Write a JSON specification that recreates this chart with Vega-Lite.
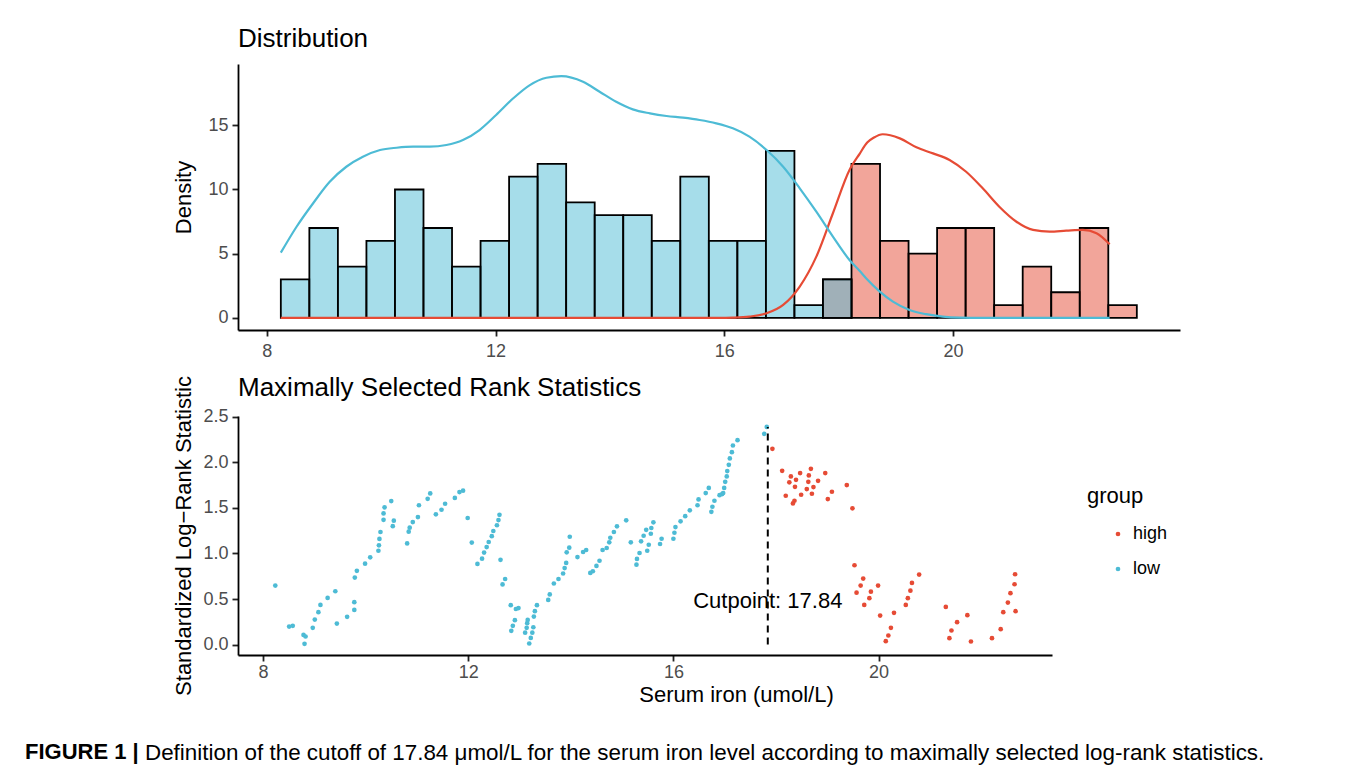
{
  "$schema": "https://vega.github.io/schema/vega-lite/v6.json",
  "background": "white",
  "padding": {"left": 25, "top": 26, "right": 5, "bottom": 5},
  "config": {
    "font": "Liberation Sans",
    "view": {"stroke": null},
    "axis": {"domainColor": "black", "domainWidth": 1.8, "tickColor": "#222222", "tickWidth": 1.8, "tickSize": 6, "labelFontSize": 18, "labelColor": "#4D4D4D", "labelPadding": 4, "titleFontSize": 22, "titleFontWeight": "normal", "titleColor": "black", "grid": false},
    "title": {"fontSize": 26, "fontWeight": "normal", "anchor": "start", "color": "black", "frame": "group", "offset": 12},
    "legend": {"titleFontSize": 22, "titleFontWeight": "normal", "titleColor": "black", "labelFontSize": 18, "labelColor": "black", "symbolSize": 22, "symbolType": "circle", "symbolStrokeWidth": 0, "rowPadding": 17, "titlePadding": 17, "symbolOffset": 22, "labelOffset": 6}
  },
  "datasets": {
    "hist": [
      {"bin_start": 17.726, "bin_end": 18.225, "count": 3, "group": "high"},
      {"bin_start": 18.225, "bin_end": 18.724, "count": 12, "group": "high"},
      {"bin_start": 18.724, "bin_end": 19.223, "count": 6, "group": "high"},
      {"bin_start": 19.223, "bin_end": 19.722, "count": 5, "group": "high"},
      {"bin_start": 19.722, "bin_end": 20.221, "count": 7, "group": "high"},
      {"bin_start": 20.221, "bin_end": 20.72, "count": 7, "group": "high"},
      {"bin_start": 20.72, "bin_end": 21.219, "count": 1, "group": "high"},
      {"bin_start": 21.219, "bin_end": 21.718, "count": 4, "group": "high"},
      {"bin_start": 21.718, "bin_end": 22.217, "count": 2, "group": "high"},
      {"bin_start": 22.217, "bin_end": 22.716, "count": 7, "group": "high"},
      {"bin_start": 22.716, "bin_end": 23.215, "count": 1, "group": "high"},
      {"bin_start": 8.245, "bin_end": 8.744, "count": 3, "group": "low"},
      {"bin_start": 8.744, "bin_end": 9.243, "count": 7, "group": "low"},
      {"bin_start": 9.243, "bin_end": 9.742, "count": 4, "group": "low"},
      {"bin_start": 9.742, "bin_end": 10.241, "count": 6, "group": "low"},
      {"bin_start": 10.241, "bin_end": 10.74, "count": 10, "group": "low"},
      {"bin_start": 10.74, "bin_end": 11.239, "count": 7, "group": "low"},
      {"bin_start": 11.239, "bin_end": 11.738, "count": 4, "group": "low"},
      {"bin_start": 11.738, "bin_end": 12.237, "count": 6, "group": "low"},
      {"bin_start": 12.237, "bin_end": 12.736, "count": 11, "group": "low"},
      {"bin_start": 12.736, "bin_end": 13.235, "count": 12, "group": "low"},
      {"bin_start": 13.235, "bin_end": 13.734, "count": 9, "group": "low"},
      {"bin_start": 13.734, "bin_end": 14.233, "count": 8, "group": "low"},
      {"bin_start": 14.233, "bin_end": 14.732, "count": 8, "group": "low"},
      {"bin_start": 14.732, "bin_end": 15.231, "count": 6, "group": "low"},
      {"bin_start": 15.231, "bin_end": 15.73, "count": 11, "group": "low"},
      {"bin_start": 15.73, "bin_end": 16.229, "count": 6, "group": "low"},
      {"bin_start": 16.229, "bin_end": 16.728, "count": 6, "group": "low"},
      {"bin_start": 16.728, "bin_end": 17.227, "count": 13, "group": "low"},
      {"bin_start": 17.227, "bin_end": 17.726, "count": 1, "group": "low"},
      {"bin_start": 17.726, "bin_end": 18.225, "count": 3, "group": "low"}
    ],
    "dens": [
      {"iron": 8.245, "density": 0, "group": "high"},
      {"iron": 15.9, "density": 0, "group": "high"},
      {"iron": 16.15, "density": 0.02, "group": "high"},
      {"iron": 16.44, "density": 0.1, "group": "high"},
      {"iron": 16.74, "density": 0.36, "group": "high"},
      {"iron": 17.03, "density": 1.01, "group": "high"},
      {"iron": 17.32, "density": 2.44, "group": "high"},
      {"iron": 17.61, "density": 4.77, "group": "high"},
      {"iron": 17.9, "density": 8.15, "group": "high"},
      {"iron": 18.19, "density": 11.52, "group": "high"},
      {"iron": 18.37, "density": 12.8, "group": "high"},
      {"iron": 18.5, "density": 13.65, "group": "high"},
      {"iron": 18.62, "density": 14.05, "group": "high"},
      {"iron": 18.77, "density": 14.3, "group": "high"},
      {"iron": 19.07, "density": 13.98, "group": "high"},
      {"iron": 19.36, "density": 13.28, "group": "high"},
      {"iron": 19.65, "density": 12.81, "group": "high"},
      {"iron": 19.94, "density": 12.3, "group": "high"},
      {"iron": 20.23, "density": 11.38, "group": "high"},
      {"iron": 20.52, "density": 10.09, "group": "high"},
      {"iron": 20.81, "density": 8.66, "group": "high"},
      {"iron": 21.11, "density": 7.49, "group": "high"},
      {"iron": 21.4, "density": 6.85, "group": "high"},
      {"iron": 21.69, "density": 6.72, "group": "high"},
      {"iron": 21.98, "density": 6.79, "group": "high"},
      {"iron": 22.27, "density": 6.85, "group": "high"},
      {"iron": 22.51, "density": 6.59, "group": "high"},
      {"iron": 22.74, "density": 5.73, "group": "high"},
      {"iron": 8.245, "density": 5.08, "group": "low"},
      {"iron": 8.52, "density": 7.1, "group": "low"},
      {"iron": 8.81, "density": 8.93, "group": "low"},
      {"iron": 9.1, "density": 10.6, "group": "low"},
      {"iron": 9.39, "density": 11.77, "group": "low"},
      {"iron": 9.68, "density": 12.55, "group": "low"},
      {"iron": 9.98, "density": 13.07, "group": "low"},
      {"iron": 10.27, "density": 13.25, "group": "low"},
      {"iron": 10.56, "density": 13.33, "group": "low"},
      {"iron": 10.85, "density": 13.33, "group": "low"},
      {"iron": 11.14, "density": 13.46, "group": "low"},
      {"iron": 11.43, "density": 13.85, "group": "low"},
      {"iron": 11.72, "density": 14.63, "group": "low"},
      {"iron": 12.01, "density": 15.8, "group": "low"},
      {"iron": 12.31, "density": 17.1, "group": "low"},
      {"iron": 12.6, "density": 18.13, "group": "low"},
      {"iron": 12.89, "density": 18.7, "group": "low"},
      {"iron": 13.15, "density": 18.83, "group": "low"},
      {"iron": 13.53, "density": 18.39, "group": "low"},
      {"iron": 13.82, "density": 17.61, "group": "low"},
      {"iron": 14.11, "density": 16.83, "group": "low"},
      {"iron": 14.4, "density": 16.24, "group": "low"},
      {"iron": 14.7, "density": 15.93, "group": "low"},
      {"iron": 14.99, "density": 15.72, "group": "low"},
      {"iron": 15.28, "density": 15.59, "group": "low"},
      {"iron": 15.57, "density": 15.41, "group": "low"},
      {"iron": 15.86, "density": 15.15, "group": "low"},
      {"iron": 16.15, "density": 14.76, "group": "low"},
      {"iron": 16.44, "density": 14.11, "group": "low"},
      {"iron": 16.74, "density": 13.07, "group": "low"},
      {"iron": 17.03, "density": 11.77, "group": "low"},
      {"iron": 17.32, "density": 10.09, "group": "low"},
      {"iron": 17.61, "density": 8.27, "group": "low"},
      {"iron": 17.9, "density": 6.33, "group": "low"},
      {"iron": 18.19, "density": 4.51, "group": "low"},
      {"iron": 18.37, "density": 3.65, "group": "low"},
      {"iron": 18.48, "density": 3.09, "group": "low"},
      {"iron": 18.72, "density": 2.05, "group": "low"},
      {"iron": 18.95, "density": 1.27, "group": "low"},
      {"iron": 19.24, "density": 0.62, "group": "low"},
      {"iron": 19.53, "density": 0.29, "group": "low"},
      {"iron": 19.82, "density": 0.1, "group": "low"},
      {"iron": 20.12, "density": 0.02, "group": "low"},
      {"iron": 20.5, "density": 0, "group": "low"},
      {"iron": 22.74, "density": 0, "group": "low"}
    ],
    "scatter": [
      {"iron": 8.24, "stat": 0.647, "group": "low"},
      {"iron": 8.51, "stat": 0.197, "group": "low"},
      {"iron": 8.58, "stat": 0.205, "group": "low"},
      {"iron": 8.79, "stat": 0.106, "group": "low"},
      {"iron": 8.83, "stat": 0.088, "group": "low"},
      {"iron": 8.81, "stat": 0.008, "group": "low"},
      {"iron": 8.97, "stat": 0.183, "group": "low"},
      {"iron": 9.01, "stat": 0.274, "group": "low"},
      {"iron": 9.08, "stat": 0.355, "group": "low"},
      {"iron": 9.12, "stat": 0.435, "group": "low"},
      {"iron": 9.26, "stat": 0.512, "group": "low"},
      {"iron": 9.41, "stat": 0.585, "group": "low"},
      {"iron": 9.44, "stat": 0.23, "group": "low"},
      {"iron": 9.64, "stat": 0.304, "group": "low"},
      {"iron": 9.78, "stat": 0.38, "group": "low"},
      {"iron": 9.78, "stat": 0.465, "group": "low"},
      {"iron": 9.79, "stat": 0.735, "group": "low"},
      {"iron": 9.83, "stat": 0.81, "group": "low"},
      {"iron": 9.99, "stat": 0.888, "group": "low"},
      {"iron": 10.09, "stat": 0.958, "group": "low"},
      {"iron": 10.25, "stat": 1.03, "group": "low"},
      {"iron": 10.26, "stat": 1.09, "group": "low"},
      {"iron": 10.27, "stat": 1.16, "group": "low"},
      {"iron": 10.29, "stat": 1.236, "group": "low"},
      {"iron": 10.35, "stat": 1.37, "group": "low"},
      {"iron": 10.35, "stat": 1.44, "group": "low"},
      {"iron": 10.37, "stat": 1.507, "group": "low"},
      {"iron": 10.5, "stat": 1.576, "group": "low"},
      {"iron": 10.53, "stat": 1.3, "group": "low"},
      {"iron": 10.55, "stat": 1.36, "group": "low"},
      {"iron": 10.81, "stat": 1.11, "group": "low"},
      {"iron": 10.84, "stat": 1.24, "group": "low"},
      {"iron": 10.86, "stat": 1.283, "group": "low"},
      {"iron": 10.92, "stat": 1.345, "group": "low"},
      {"iron": 11.02, "stat": 1.4, "group": "low"},
      {"iron": 11.04, "stat": 1.53, "group": "low"},
      {"iron": 11.21, "stat": 1.6, "group": "low"},
      {"iron": 11.26, "stat": 1.66, "group": "low"},
      {"iron": 11.37, "stat": 1.43, "group": "low"},
      {"iron": 11.48, "stat": 1.48, "group": "low"},
      {"iron": 11.55, "stat": 1.546, "group": "low"},
      {"iron": 11.74, "stat": 1.61, "group": "low"},
      {"iron": 11.83, "stat": 1.674, "group": "low"},
      {"iron": 11.9, "stat": 1.69, "group": "low"},
      {"iron": 11.99, "stat": 1.39, "group": "low"},
      {"iron": 12.07, "stat": 1.12, "group": "low"},
      {"iron": 12.18, "stat": 0.885, "group": "low"},
      {"iron": 12.27, "stat": 0.943, "group": "low"},
      {"iron": 12.31, "stat": 1.01, "group": "low"},
      {"iron": 12.36, "stat": 1.07, "group": "low"},
      {"iron": 12.4, "stat": 1.126, "group": "low"},
      {"iron": 12.46, "stat": 1.19, "group": "low"},
      {"iron": 12.49, "stat": 1.247, "group": "low"},
      {"iron": 12.56, "stat": 1.31, "group": "low"},
      {"iron": 12.59, "stat": 1.367, "group": "low"},
      {"iron": 12.61, "stat": 1.425, "group": "low"},
      {"iron": 12.63, "stat": 0.93, "group": "low"},
      {"iron": 12.67, "stat": 0.66, "group": "low"},
      {"iron": 12.72, "stat": 0.72, "group": "low"},
      {"iron": 12.83, "stat": 0.432, "group": "low"},
      {"iron": 12.84, "stat": 0.15, "group": "low"},
      {"iron": 12.87, "stat": 0.205, "group": "low"},
      {"iron": 12.91, "stat": 0.267, "group": "low"},
      {"iron": 12.93, "stat": 0.39, "group": "low"},
      {"iron": 12.98, "stat": 0.4, "group": "low"},
      {"iron": 13.11, "stat": 0.13, "group": "low"},
      {"iron": 13.14, "stat": 0.183, "group": "low"},
      {"iron": 13.15, "stat": 0.235, "group": "low"},
      {"iron": 13.16, "stat": 0.27, "group": "low"},
      {"iron": 13.19, "stat": 0.011, "group": "low"},
      {"iron": 13.22, "stat": 0.073, "group": "low"},
      {"iron": 13.25, "stat": 0.13, "group": "low"},
      {"iron": 13.27, "stat": 0.19, "group": "low"},
      {"iron": 13.28, "stat": 0.307, "group": "low"},
      {"iron": 13.3, "stat": 0.366, "group": "low"},
      {"iron": 13.34, "stat": 0.432, "group": "low"},
      {"iron": 13.56, "stat": 0.49, "group": "low"},
      {"iron": 13.59, "stat": 0.55, "group": "low"},
      {"iron": 13.67, "stat": 0.67, "group": "low"},
      {"iron": 13.76, "stat": 0.72, "group": "low"},
      {"iron": 13.85, "stat": 0.78, "group": "low"},
      {"iron": 13.88, "stat": 0.84, "group": "low"},
      {"iron": 13.91, "stat": 0.896, "group": "low"},
      {"iron": 13.92, "stat": 1.013, "group": "low"},
      {"iron": 13.97, "stat": 1.064, "group": "low"},
      {"iron": 13.98, "stat": 1.184, "group": "low"},
      {"iron": 14.13, "stat": 0.96, "group": "low"},
      {"iron": 14.24, "stat": 1.016, "group": "low"},
      {"iron": 14.3, "stat": 1.038, "group": "low"},
      {"iron": 14.38, "stat": 0.786, "group": "low"},
      {"iron": 14.43, "stat": 0.805, "group": "low"},
      {"iron": 14.5, "stat": 0.863, "group": "low"},
      {"iron": 14.56, "stat": 0.92, "group": "low"},
      {"iron": 14.62, "stat": 1.038, "group": "low"},
      {"iron": 14.7, "stat": 1.06, "group": "low"},
      {"iron": 14.75, "stat": 1.123, "group": "low"},
      {"iron": 14.77, "stat": 1.173, "group": "low"},
      {"iron": 14.84, "stat": 1.236, "group": "low"},
      {"iron": 14.9, "stat": 1.298, "group": "low"},
      {"iron": 15.08, "stat": 1.364, "group": "low"},
      {"iron": 15.17, "stat": 1.123, "group": "low"},
      {"iron": 15.28, "stat": 0.877, "group": "low"},
      {"iron": 15.29, "stat": 0.94, "group": "low"},
      {"iron": 15.34, "stat": 1.005, "group": "low"},
      {"iron": 15.37, "stat": 1.134, "group": "low"},
      {"iron": 15.42, "stat": 1.195, "group": "low"},
      {"iron": 15.47, "stat": 1.26, "group": "low"},
      {"iron": 15.49, "stat": 1.03, "group": "low"},
      {"iron": 15.52, "stat": 1.096, "group": "low"},
      {"iron": 15.56, "stat": 1.217, "group": "low"},
      {"iron": 15.57, "stat": 1.28, "group": "low"},
      {"iron": 15.61, "stat": 1.342, "group": "low"},
      {"iron": 15.74, "stat": 1.104, "group": "low"},
      {"iron": 15.77, "stat": 1.162, "group": "low"},
      {"iron": 16.0, "stat": 1.162, "group": "low"},
      {"iron": 16.02, "stat": 1.228, "group": "low"},
      {"iron": 16.04, "stat": 1.29, "group": "low"},
      {"iron": 16.14, "stat": 1.353, "group": "low"},
      {"iron": 16.23, "stat": 1.41, "group": "low"},
      {"iron": 16.32, "stat": 1.474, "group": "low"},
      {"iron": 16.47, "stat": 1.53, "group": "low"},
      {"iron": 16.49, "stat": 1.594, "group": "low"},
      {"iron": 16.63, "stat": 1.663, "group": "low"},
      {"iron": 16.69, "stat": 1.72, "group": "low"},
      {"iron": 16.74, "stat": 1.458, "group": "low"},
      {"iron": 16.76, "stat": 1.513, "group": "low"},
      {"iron": 16.8, "stat": 1.579, "group": "low"},
      {"iron": 16.9, "stat": 1.64, "group": "low"},
      {"iron": 16.95, "stat": 1.652, "group": "low"},
      {"iron": 16.97, "stat": 1.663, "group": "low"},
      {"iron": 16.99, "stat": 1.72, "group": "low"},
      {"iron": 17.01, "stat": 1.787, "group": "low"},
      {"iron": 17.04, "stat": 1.846, "group": "low"},
      {"iron": 17.05, "stat": 1.905, "group": "low"},
      {"iron": 17.08, "stat": 1.974, "group": "low"},
      {"iron": 17.1, "stat": 2.044, "group": "low"},
      {"iron": 17.14, "stat": 2.113, "group": "low"},
      {"iron": 17.16, "stat": 2.186, "group": "low"},
      {"iron": 17.25, "stat": 2.245, "group": "low"},
      {"iron": 17.77, "stat": 2.314, "group": "low"},
      {"iron": 17.82, "stat": 2.39, "group": "low"},
      {"iron": 17.93, "stat": 2.149, "group": "high"},
      {"iron": 18.12, "stat": 1.908, "group": "high"},
      {"iron": 18.19, "stat": 1.634, "group": "high"},
      {"iron": 18.26, "stat": 1.781, "group": "high"},
      {"iron": 18.29, "stat": 1.846, "group": "high"},
      {"iron": 18.33, "stat": 1.55, "group": "high"},
      {"iron": 18.36, "stat": 1.579, "group": "high"},
      {"iron": 18.37, "stat": 1.732, "group": "high"},
      {"iron": 18.39, "stat": 1.809, "group": "high"},
      {"iron": 18.47, "stat": 1.883, "group": "high"},
      {"iron": 18.49, "stat": 1.645, "group": "high"},
      {"iron": 18.6, "stat": 1.707, "group": "high"},
      {"iron": 18.63, "stat": 1.787, "group": "high"},
      {"iron": 18.64, "stat": 1.857, "group": "high"},
      {"iron": 18.68, "stat": 1.93, "group": "high"},
      {"iron": 18.7, "stat": 1.656, "group": "high"},
      {"iron": 18.73, "stat": 1.729, "group": "high"},
      {"iron": 18.82, "stat": 1.798, "group": "high"},
      {"iron": 18.96, "stat": 1.883, "group": "high"},
      {"iron": 19.01, "stat": 1.598, "group": "high"},
      {"iron": 19.09, "stat": 1.678, "group": "high"},
      {"iron": 19.38, "stat": 1.751, "group": "high"},
      {"iron": 19.49, "stat": 1.496, "group": "high"},
      {"iron": 19.53, "stat": 0.871, "group": "high"},
      {"iron": 19.57, "stat": 0.57, "group": "high"},
      {"iron": 19.65, "stat": 0.647, "group": "high"},
      {"iron": 19.7, "stat": 0.724, "group": "high"},
      {"iron": 19.72, "stat": 0.435, "group": "high"},
      {"iron": 19.82, "stat": 0.509, "group": "high"},
      {"iron": 19.85, "stat": 0.581, "group": "high"},
      {"iron": 19.99, "stat": 0.647, "group": "high"},
      {"iron": 20.03, "stat": 0.318, "group": "high"},
      {"iron": 20.14, "stat": 0.037, "group": "high"},
      {"iron": 20.19, "stat": 0.099, "group": "high"},
      {"iron": 20.24, "stat": 0.183, "group": "high"},
      {"iron": 20.3, "stat": 0.348, "group": "high"},
      {"iron": 20.53, "stat": 0.435, "group": "high"},
      {"iron": 20.57, "stat": 0.509, "group": "high"},
      {"iron": 20.62, "stat": 0.592, "group": "high"},
      {"iron": 20.65, "stat": 0.677, "group": "high"},
      {"iron": 20.79, "stat": 0.768, "group": "high"},
      {"iron": 21.31, "stat": 0.413, "group": "high"},
      {"iron": 21.38, "stat": 0.07, "group": "high"},
      {"iron": 21.42, "stat": 0.154, "group": "high"},
      {"iron": 21.53, "stat": 0.246, "group": "high"},
      {"iron": 21.73, "stat": 0.322, "group": "high"},
      {"iron": 21.8, "stat": 0.033, "group": "high"},
      {"iron": 22.21, "stat": 0.07, "group": "high"},
      {"iron": 22.38, "stat": 0.169, "group": "high"},
      {"iron": 22.43, "stat": 0.355, "group": "high"},
      {"iron": 22.52, "stat": 0.461, "group": "high"},
      {"iron": 22.57, "stat": 0.564, "group": "high"},
      {"iron": 22.65, "stat": 0.662, "group": "high"},
      {"iron": 22.66, "stat": 0.772, "group": "high"},
      {"iron": 22.67, "stat": 0.366, "group": "high"}
    ],
    "cut": [
      {"cutpoint": 17.84, "stat_min": 0, "stat_max": 2.39, "label": "Cutpoint: 17.84"}
    ]
  },
  "vconcat": [
    {
      "vconcat": [
        {
          "width": 942,
          "height": 266,
          "title": {"text": "Distribution"},
          "layer": [
            {
              "data": {"name": "hist"},
              "mark": {"type": "bar", "fillOpacity": 0.5, "stroke": "black", "strokeWidth": 1.8},
              "encoding": {
                "x": {"field": "bin_start", "type": "quantitative", "scale": {"domain": [7.496, 23.97], "nice": false, "zero": false}, "axis": {"values": [8, 12, 16, 20], "format": "d", "title": null, "labelPadding": 6}},
                "x2": {"field": "bin_end"},
                "y": {"field": "count", "type": "quantitative", "scale": {"domain": [-0.94, 19.77], "nice": false, "zero": false}, "axis": {"values": [0, 5, 10, 15], "title": "Density", "titlePadding": 12}},
                "y2": {"datum": 0},
                "fill": {"field": "group", "type": "nominal", "scale": {"domain": ["high", "low"], "range": ["#E64B35", "#4DBBD5"]}, "legend": null}
              }
            },
            {
              "data": {"name": "dens"},
              "mark": {"type": "line", "strokeWidth": 2.2, "interpolate": "monotone"},
              "encoding": {
                "x": {"field": "iron", "type": "quantitative"},
                "y": {"field": "density", "type": "quantitative", "title": "Density"},
                "stroke": {"field": "group", "type": "nominal", "scale": {"domain": ["high", "low"], "range": ["#E64B35", "#4DBBD5"]}, "legend": null}
              }
            }
          ]
        },
        {
          "width": 814,
          "height": 239,
          "title": {"text": "Maximally Selected Rank Statistics", "offset": -25},
          "layer": [
            {
              "data": {"name": "scatter"},
              "mark": {"type": "point", "filled": true, "size": 22, "opacity": 1},
              "encoding": {
                "x": {"field": "iron", "type": "quantitative", "scale": {"domain": [7.513, 23.38], "nice": false, "zero": false}, "axis": {"values": [8, 12, 16, 20], "format": "d", "title": "Serum iron (umol/L)", "titlePadding": 3, "labelPadding": 2, "titleX": 498}},
                "y": {"field": "stat", "type": "quantitative", "scale": {"domain": [-0.115, 2.51], "nice": false, "zero": false}, "axis": {"values": [0, 0.5, 1, 1.5, 2, 2.5], "format": ".1f", "title": "Standardized Log\u2212Rank Statistic", "titlePadding": 7}},
                "color": {"field": "group", "type": "nominal", "scale": {"domain": ["high", "low"], "range": ["#E64B35", "#4DBBD5"]}, "legend": {"title": "group", "orient": "none", "legendX": 849, "legendY": 70}}
              }
            },
            {
              "data": {"name": "cut"},
              "mark": {"type": "rule", "strokeDash": [7, 5], "strokeWidth": 2, "color": "black"},
              "encoding": {
                "x": {"field": "cutpoint", "type": "quantitative"},
                "y": {"field": "stat_min", "type": "quantitative"},
                "y2": {"field": "stat_max"}
              }
            },
            {
              "data": {"name": "cut"},
              "mark": {"type": "text", "fontSize": 22, "align": "center", "baseline": "middle", "color": "black"},
              "encoding": {
                "x": {"field": "cutpoint", "type": "quantitative"},
                "y": {"datum": 0.48},
                "text": {"field": "label"}
              }
            }
          ]
        }
      ],
      "spacing": 14,
      "resolve": {"scale": {"color": "independent"}, "legend": {"color": "independent"}}
    },
    {
      "hconcat": [
        {
          "width": 1,
          "height": 1,
          "data": {"values": []},
          "mark": "point",
          "encoding": {},
          "title": {"text": "FIGURE 1 |", "fontWeight": "bold", "fontSize": 22, "dx": -213, "offset": 0}
        },
        {
          "width": 1,
          "height": 1,
          "data": {"values": []},
          "mark": "point",
          "encoding": {},
          "title": {"text": "Definition of the cutoff of 17.84 \u03bcmol/L for the serum iron level according to maximally selected log-rank statistics.", "fontWeight": "normal", "fontSize": 22.4, "dx": -213, "offset": 0}
        }
      ],
      "spacing": 119,
      "bounds": "flush"
    }
  ],
  "spacing": 36,
  "align": "each",
  "resolve": {"scale": {"color": "independent"}, "legend": {"color": "independent"}}
}
